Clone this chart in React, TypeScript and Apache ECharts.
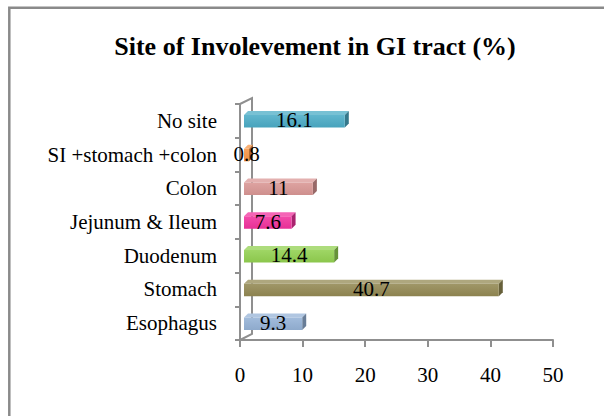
import React, { useEffect, useRef } from "react";
import * as echarts from "echarts";

const categories = [
  "Esophagus",
  "Stomach",
  "Duodenum",
  "Jejunum & Ileum",
  "Colon",
  "SI +stomach +colon",
  "No site",
];
const values = [9.3, 40.7, 14.4, 7.6, 11, 0.8, 16.1];
const barColors = ["#95B3D7", "#938953", "#92D050", "#F2329E", "#D99694", "#F79646", "#4BACC6"];
const titleText = "Site of Involevement in GI tract (%)";
const xMin = 0;
const xMax = 50;
const xStep = 10;

const FONT = '"Liberation Serif", "Times New Roman", serif';

function mix(hex: string, target: number, t: number): string {
  const h = hex.replace("#", "");
  const r = parseInt(h.slice(0, 2), 16);
  const g = parseInt(h.slice(2, 4), 16);
  const b = parseInt(h.slice(4, 6), 16);
  const m = (c: number) => Math.round(c + (target - c) * t);
  return `rgb(${m(r)},${m(g)},${m(b)})`;
}

export default function App() {
  const ref = useRef<HTMLDivElement>(null);
  useEffect(() => {
    document.body.style.margin = "0";
    if (!ref.current) return;
    const chart = echarts.init(ref.current, undefined, { renderer: "svg" });
    const gridLeft = 240;
    const gridTop = 104;
    const gridRight = 51;
    const gridBottom = 76;
    const H = 416;
    const axisBottomY = H - gridBottom;
    const depthX = 12;
    const depthY = 6;
    const axisColor = "#8f8f8f";

    chart.setOption({
      animation: false,
      backgroundColor: "#ffffff",
      grid: { left: gridLeft, right: gridRight, top: gridTop, bottom: gridBottom, outerBoundsMode: "none" },
      xAxis: {
        type: "value",
        min: xMin,
        max: xMax,
        interval: xStep,
        axisLine: { show: true, lineStyle: { color: axisColor, width: 2 } },
        axisTick: { show: true, length: 7, lineStyle: { color: axisColor, width: 2 } },
        splitLine: { show: false },
        axisLabel: { color: "#000", fontSize: 21, fontFamily: FONT, margin: 24 },
      },
      yAxis: {
        type: "category",
        data: categories,
        axisLine: { show: true, lineStyle: { color: axisColor, width: 2 } },
        axisTick: { show: true, length: 5, lineStyle: { color: axisColor, width: 2 } },
        axisLabel: { color: "#000", fontSize: 21, fontFamily: FONT, margin: 23, padding: [8, 0, 0, 0] },
      },
      graphic: [
        {
          type: "rect",
          z: 0,
          shape: { x: 9.3, y: 7.8, width: 800, height: 600 },
          style: { fill: "none", stroke: "#8a8a8a", lineWidth: 2.5 },
        },
        {
          type: "text",
          z: 5,
          x: 315,
          y: 46,
          style: {
            text: titleText,
            fontSize: 26,
            fontWeight: "bold",
            fontFamily: FONT,
            fill: "#000",
            align: "center",
            verticalAlign: "middle",
          },
        },
        {
          type: "polyline",
          z: 1,
          shape: {
            points: [
              [gridLeft, gridTop],
              [gridLeft + depthX, gridTop - depthY],
              [gridLeft + depthX, axisBottomY - depthY],
              [gridLeft, axisBottomY],
            ],
          },
          style: { fill: "none", stroke: axisColor, lineWidth: 2 },
        },
      ],
      series: [
        {
          type: "custom",
          z: 3,
          data: values.map((v, i) => [v, i]),
          encode: { x: 0, y: 1 },
          renderItem: (params: any, api: any) => {
            const v = api.value(0);
            const idx = api.value(1);
            const start = api.coord([0, idx]);
            const end = api.coord([v, idx]);
            const d = 4;
            const h = 12.5;
            const x0 = start[0] + d;
            const x1 = end[0] + d;
            const cy = start[1] + 0.5;
            const yT = cy - h / 2;
            const yB = cy + h / 2;
            const base = barColors[idx];
            return {
              type: "group",
              children: [
                {
                  type: "polygon",
                  shape: { points: [[x0, yT], [x0 + d, yT - d], [x1 + d, yT - d], [x1, yT]] },
                  style: { fill: mix(base, 255, 0.25) },
                },
                {
                  type: "polygon",
                  shape: { points: [[x1, yT], [x1 + d, yT - d], [x1 + d, yB - d], [x1, yB]] },
                  style: { fill: mix(base, 0, 0.3) },
                },
                {
                  type: "rect",
                  shape: { x: x0, y: yT, width: Math.max(x1 - x0, 1), height: h },
                  style: {
                    fill: new echarts.graphic.LinearGradient(0, 0, 0, 1, [
                      { offset: 0, color: mix(base, 255, 0.12) },
                      { offset: 1, color: mix(base, 0, 0.05) },
                    ]),
                  },
                },
                {
                  type: "text",
                  z2: 10,
                  style: {
                    text: String(v),
                    x: (x0 + x1) / 2,
                    y: cy - 1,
                    align: "center",
                    verticalAlign: "middle",
                    fontSize: 21,
                    fontFamily: FONT,
                    fill: "#000",
                  },
                },
              ],
            };
          },
        },
      ],
    });
    return () => chart.dispose();
  }, []);
  return <div ref={ref} style={{ width: 604, height: 416 }} />;
}
